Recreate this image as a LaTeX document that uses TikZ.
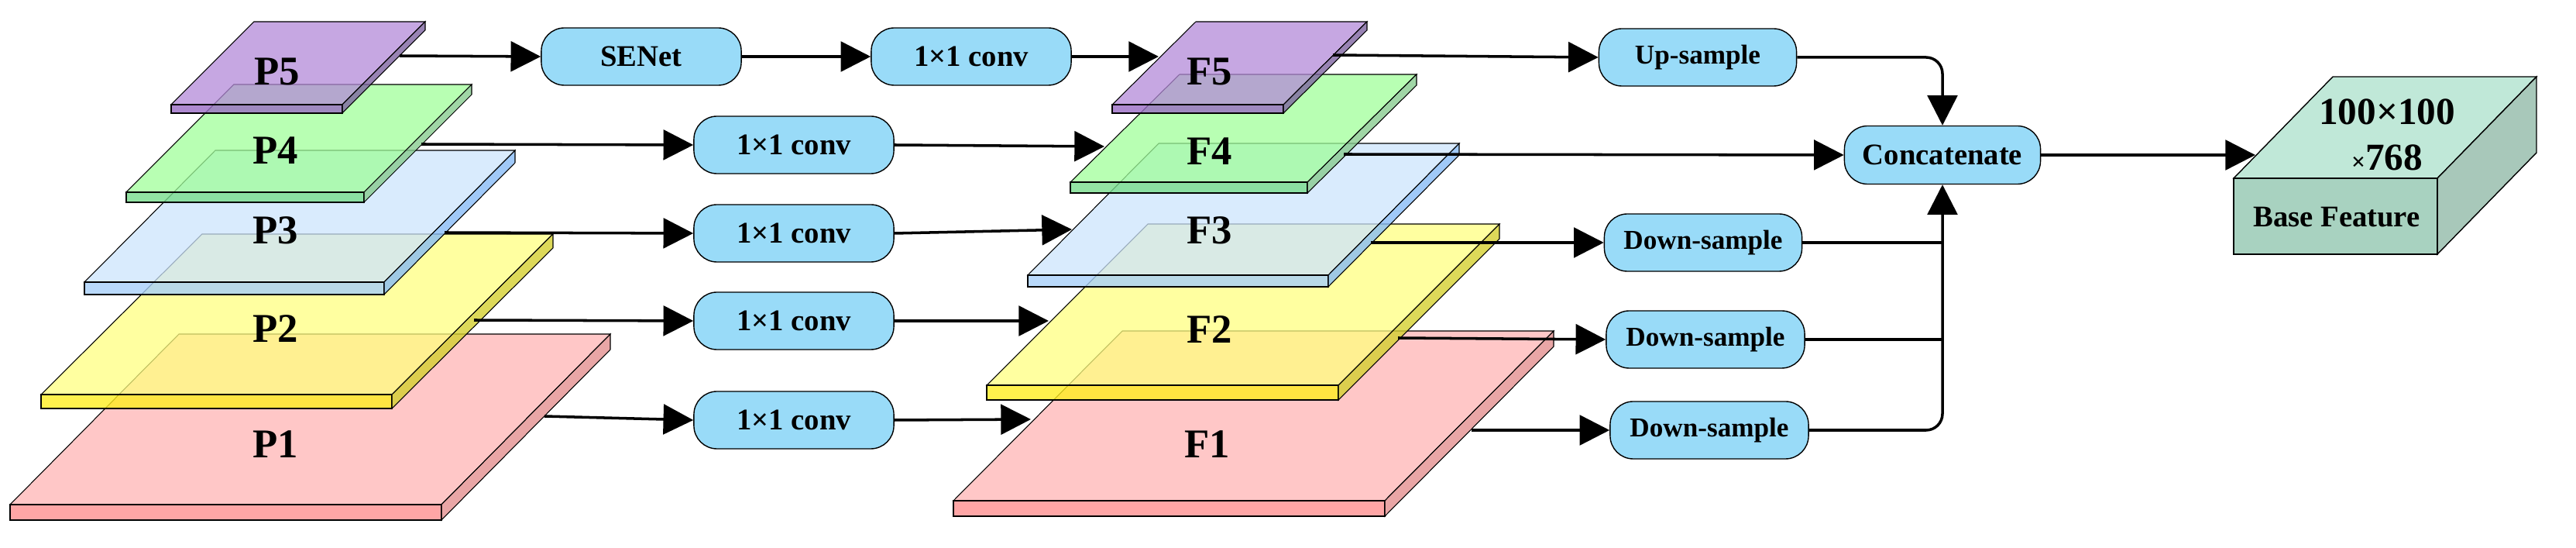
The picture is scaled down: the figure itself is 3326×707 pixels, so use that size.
\documentclass[tikz,border=0pt]{standalone}
\usepackage{fontspec}
\setmainfont{Liberation Serif}
\usetikzlibrary{arrows.meta}
\newcommand\slab[9]{%
 \fill[#7,fill opacity=0.75] (#1,#2) -- ({#1+#3},#2) -- ({#1+#3+#4},{#2-#5}) -- ({#1+#4},{#2-#5}) -- cycle;
 \draw[line width=0.3pt] (#1,#2) -- ({#1+#3},#2) -- ({#1+#3+#4},{#2-#5}) -- ({#1+#4},{#2-#5}) -- cycle;
 \fill[#8,fill opacity=0.8] (#1,#2) rectangle ({#1+#3},{#2+#6});
 \draw[line width=0.3pt] (#1,#2) rectangle ({#1+#3},{#2+#6});
 \fill[#9,fill opacity=0.8] ({#1+#3},#2) -- ({#1+#3+#4},{#2-#5}) -- ({#1+#3+#4},{#2-#5+#6}) -- ({#1+#3},{#2+#6}) -- cycle;
 \draw[line width=0.3pt] ({#1+#3},#2) -- ({#1+#3+#4},{#2-#5}) -- ({#1+#3+#4},{#2-#5+#6}) -- ({#1+#3},{#2+#6}) -- cycle;
}
\definecolor{pT}{HTML}{B38AD8}\definecolor{pF}{HTML}{9A6CC4}\definecolor{pS}{HTML}{7E64A0}
\definecolor{gT}{HTML}{A0FF9A}\definecolor{gF}{HTML}{78DC8C}\definecolor{gS}{HTML}{88CC90}
\definecolor{bT}{HTML}{CCE4FC}\definecolor{bF}{HTML}{A8D0FA}\definecolor{bS}{HTML}{88BCF6}
\definecolor{yT}{HTML}{FFFF80}\definecolor{yF}{HTML}{FFEE20}\definecolor{yS}{HTML}{D4D030}
\definecolor{rT}{HTML}{FFB4B4}\definecolor{rF}{HTML}{FF9090}\definecolor{rS}{HTML}{E49090}
\definecolor{boxc}{HTML}{99DBF8}
\definecolor{cT}{HTML}{C0E8D8}\definecolor{cF}{HTML}{A8D2C0}\definecolor{cS}{HTML}{A8C8BA}
\begin{document}
\begin{tikzpicture}[x=0.01cm,y=-0.01cm,
  box/.style={draw,line width=0.4pt,fill=boxc,rounded corners=8.5pt,minimum width=2.58cm,minimum height=0.74cm,font=\bfseries\fontsize{11}{12}\selectfont,inner sep=0pt},
  sbox/.style={box,font=\bfseries\fontsize{10}{12}\selectfont},
  lab/.style={font=\bfseries\fontsize{15}{17}\selectfont},
  arr/.style={line width=1pt,-{Triangle[length=11pt,width=11pt]}},
  ln/.style={line width=1pt}]
\useasboundingbox (0,0) rectangle (3326,707);
% P slabs (bottom first)
\slab{13}{651}{557}{218}{220}{20}{rT}{rF}{rS}
\slab{53}{509}{453}{208}{207}{18}{yT}{yF}{yS}
\slab{109}{364}{387}{169}{170}{16}{bT}{bF}{bS}
\slab{163}{248}{307}{139}{139}{13}{gT}{gF}{gS}
\slab{221}{135}{221}{107}{107}{11}{pT}{pF}{pS}
\node[lab] (p5) at (358,92) {P5};
\node[lab] (p4) at (356,194) {P4};
\node[lab] (p3) at (356,297) {P3};
\node[lab] (p2) at (356,424) {P2};
\node[lab] (p1) at (356,573) {P1};
% F slabs
\slab{1231}{646}{557}{218}{219}{20}{rT}{rF}{rS}
\slab{1274}{497}{454}{208}{208}{19}{yT}{yF}{yS}
\slab{1327}{355}{388}{169}{170}{15}{bT}{bF}{bS}
\slab{1382}{235}{306}{141}{139}{14}{gT}{gF}{gS}
\slab{1436}{135}{221}{108}{107}{11}{pT}{pF}{pS}
\node[lab] (f5) at (1562,92) {F5};
\node[lab] (f4) at (1562,195) {F4};
\node[lab] (f3) at (1562,297) {F3};
\node[lab] (f2) at (1562,425) {F2};
\node[lab] (f1) at (1559,573) {F1};
% boxes
\node[box] (se) at (828,73) {SENet};
\node[box] (c0) at (1254,73) {1\texttimes1 conv};
\node[box] (c1) at (1025,187) {1\texttimes1 conv};
\node[box] (c2) at (1025,301) {1\texttimes1 conv};
\node[box] (c3) at (1025,414) {1\texttimes1 conv};
\node[box] (c4) at (1025,542) {1\texttimes1 conv};
\node[sbox,minimum width=2.55cm] (up) at (2192,74) {Up-sample};
\node[sbox,minimum width=2.55cm] (d1) at (2199,313) {Down-sample};
\node[sbox,minimum width=2.56cm] (d2) at (2202,438) {Down-sample};
\node[sbox,minimum width=2.56cm] (d3) at (2207,555) {Down-sample};
\node[box,minimum width=2.53cm,minimum height=0.75cm] (cat) at (2508,200) {Concatenate};
% cube
\filldraw[fill=cT,line width=0.4pt] (2884,230) -- (3012,99) -- (3275,99) -- (3147,230) -- cycle;
\filldraw[fill=cS,line width=0.4pt] (3147,230) -- (3275,99) -- (3275,197) -- (3147,328) -- cycle;
\filldraw[fill=cF,line width=0.4pt] (2884,230) rectangle (3147,328);
\coordinate (cube) at (2912,200);
\node[font=\bfseries\fontsize{14}{16}\selectfont] (t1) at (3082,144) {100\texttimes100};
\node[font=\bfseries\fontsize{14}{16}\selectfont] (t2) at (3082,203) {{\fontsize{9}{10}\selectfont\texttimes}768};
\node[font=\bfseries\fontsize{11}{12}\selectfont] (t3) at (3017,280) {Base Feature};
% start coordinates
\coordinate (sp5) at (516,72);
\coordinate (sp4) at (544,186);
\coordinate (sp3) at (574,300);
\coordinate (sp2) at (612,413);
\coordinate (sp1) at (703,537);
\coordinate (ef5) at (1496,73);
\coordinate (ef4) at (1426,189);
\coordinate (ef3) at (1384,296);
\coordinate (ef2) at (1354,414);
\coordinate (ef1) at (1331,541);
\coordinate (sf5) at (1721,71);
\coordinate (sf4) at (1735,199);
\coordinate (sf3) at (1770,313);
\coordinate (sf2) at (1805,436);
\coordinate (sf1) at (1900,555);
% arrows
\draw[arr] (sp5) -- (se.west);
\draw[arr] (se.east) -- (c0.west);
\draw[arr] (sp4) -- (c1.west);
\draw[arr] (sp3) -- (c2.west);
\draw[arr] (sp2) -- (c3.west);
\draw[arr] (sp1) -- (c4.west);
\draw[arr] (c0.east) -- (ef5);
\draw[arr] (c1.east) -- (ef4);
\draw[arr] (c2.east) -- (ef3);
\draw[arr] (c3.east) -- (ef2);
\draw[arr] (c4.east) -- (ef1);
\draw[arr] (sf5) -- (up.west);
\draw[arr] (sf4) -- (cat.west);
\draw[arr] (sf3) -- (d1.west);
\draw[arr] (sf2) -- (d2.west);
\draw[arr] (sf1) -- (d3.west);
\draw[arr,rounded corners=6pt] (up.east) -| (cat.north);
\draw[arr,rounded corners=6pt] (d3.east) -| (cat.south);
\draw[ln] (d1.east) -- (d1.east -| cat.south);
\draw[ln] (d2.east) -- (d2.east -| cat.south);
\draw[arr] (cat.east) -- (cube);
\end{tikzpicture}
\end{document}
